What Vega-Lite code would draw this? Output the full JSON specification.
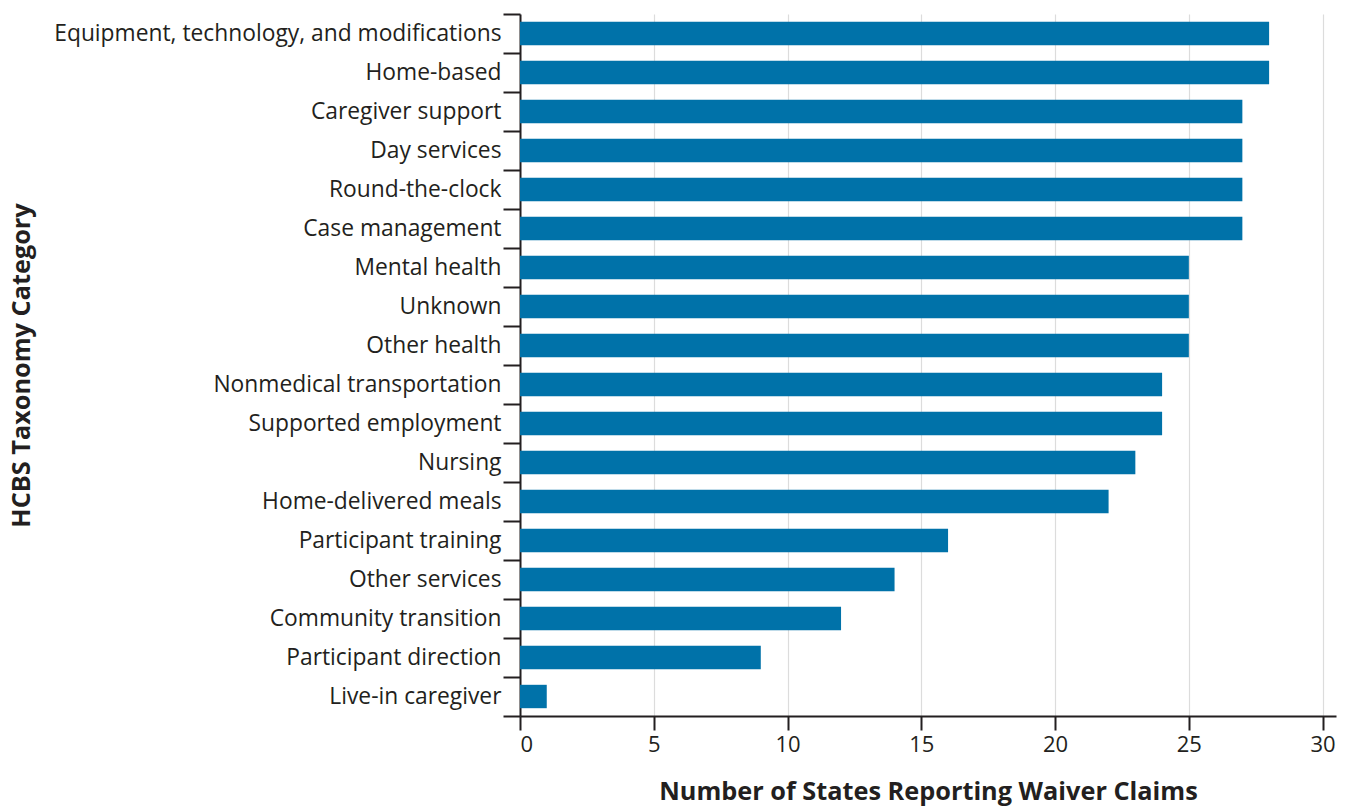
{
  "$schema": "https://vega.github.io/schema/vega-lite/v6.json",
  "width": 816,
  "height": 702,
  "autosize": {"type": "none"},
  "padding": {"left": 520, "top": 14, "right": 13, "bottom": 91},
  "background": "white",
  "data": {
    "values": [
      {"category": "Equipment, technology, and modifications", "states": 28},
      {"category": "Home-based", "states": 28},
      {"category": "Caregiver support", "states": 27},
      {"category": "Day services", "states": 27},
      {"category": "Round-the-clock", "states": 27},
      {"category": "Case management", "states": 27},
      {"category": "Mental health", "states": 25},
      {"category": "Unknown", "states": 25},
      {"category": "Other health", "states": 25},
      {"category": "Nonmedical transportation", "states": 24},
      {"category": "Supported employment", "states": 24},
      {"category": "Nursing", "states": 23},
      {"category": "Home-delivered meals", "states": 22},
      {"category": "Participant training", "states": 16},
      {"category": "Other services", "states": 14},
      {"category": "Community transition", "states": 12},
      {"category": "Participant direction", "states": 9},
      {"category": "Live-in caregiver", "states": 1}
    ]
  },
  "mark": {"type": "bar", "color": "#0072A9", "height": {"band": 0.6}},
  "encoding": {
    "y": {
      "field": "category",
      "type": "nominal",
      "sort": null,
      "scale": {"paddingInner": 0, "paddingOuter": 0},
      "axis": {
        "title": "HCBS Taxonomy Category",
        "tickBand": "extent",
        "tickSize": 17,
        "tickWidth": 2,
        "tickColor": "#231F20",
        "domainColor": "#231F20",
        "domainWidth": 2,
        "labelPadding": 2,
        "labelFontSize": 22.8,
        "labelFont": "Open Sans",
        "labelColor": "#231F20",
        "labelLimit": 600,
        "titleFont": "Open Sans",
        "titleFontSize": 25.3,
        "titleFontWeight": "bold",
        "titleColor": "#231F20",
        "titleX": -491,
        "titleY": 351,
        "titleBaseline": "alphabetic",
        "grid": false
      }
    },
    "x": {
      "field": "states",
      "type": "quantitative",
      "scale": {"domain": [0, 30.5], "nice": false, "zero": true},
      "axis": {
        "title": "Number of States Reporting Waiver Claims",
        "values": [0, 5, 10, 15, 20, 25, 30],
        "tickSize": 14,
        "tickWidth": 2,
        "tickColor": "#231F20",
        "domainColor": "#231F20",
        "domainWidth": 2,
        "labelPadding": 4,
        "labelFontSize": 22,
        "labelFont": "Open Sans",
        "labelColor": "#231F20",
        "titleFont": "Open Sans",
        "titleFontSize": 25.3,
        "titleFontWeight": "bold",
        "titleColor": "#231F20",
        "titleX": 408,
        "titleY": 83,
        "titleBaseline": "alphabetic",
        "grid": true,
        "gridColor": "#DCDCDC",
        "gridWidth": 1.2
      }
    }
  },
  "config": {"view": {"stroke": null}}
}
